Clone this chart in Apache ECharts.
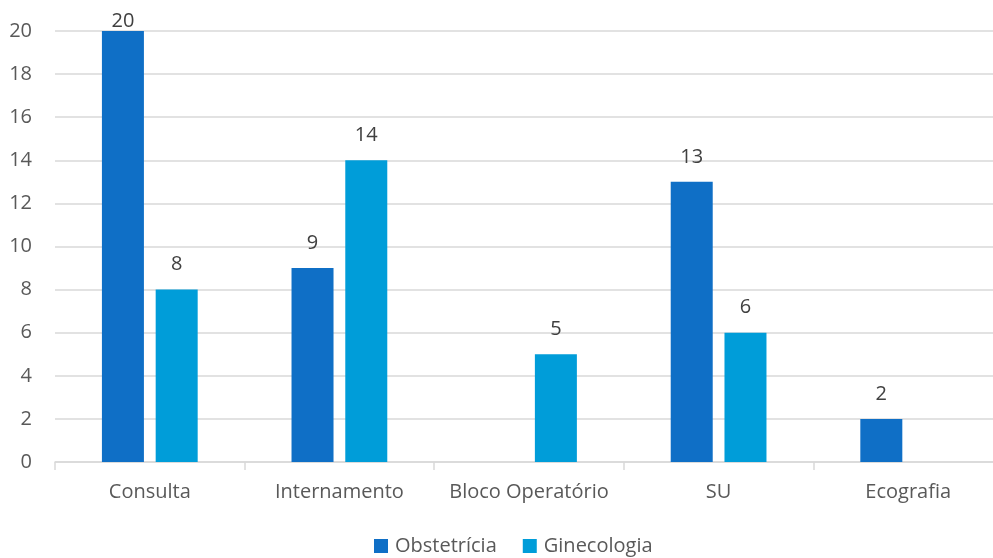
<!DOCTYPE html>
<html>
<head>
<meta charset="utf-8">
<script src="https://cdn.jsdelivr.net/npm/echarts@6/dist/echarts.min.js"></script>
<style>
  html, body { margin: 0; padding: 0; background: #fff; overflow: hidden; }
  #wrap { width: 993px; height: 558px; overflow: hidden; }
  /* the plot runs a little past the right edge of the view */
  #chart { width: 1003px; height: 558px; }
</style>
</head>
<body>
<div id="wrap"><div id="chart"></div></div>
<script>
const categories = ['Consulta', 'Internamento', 'Bloco Operatório', 'SU', 'Ecografia'];
const obstetricia = [20, 9, null, 13, 2];
const ginecologia = [8, 14, 5, 6, null];
const yTicks = { min: 0, max: 20, interval: 2 };

const FONT = '"Open Sans", "Noto Sans", sans-serif';

const chart = echarts.init(document.getElementById('chart'), null, { renderer: 'canvas' });

const labelStyle = {
  show: true,
  position: 'top',
  distance: 15,
  color: '#404040',
  fontSize: 20,
  fontFamily: FONT
};

// labels of bars reaching the axis max sit tight against the bar so they stay in view
function withLabels(values) {
  return values.map(v => (v === yTicks.max ? { value: v, label: { distance: 0 } } : v));
}

chart.setOption({
  animation: false,
  backgroundColor: '#ffffff',
  grid: { left: 55, top: 31, right: 0, bottom: 96, containLabel: false },
  legend: {
    bottom: -3,
    left: 369,
    itemWidth: 14,
    itemHeight: 14,
    itemGap: 26,
    icon: 'rect',
    textStyle: { color: '#595959', fontSize: 20, fontFamily: FONT, padding: [0, 0, 0, 2] },
    data: ['Obstetrícia', 'Ginecologia']
  },
  xAxis: {
    type: 'category',
    data: categories,
    axisLine: { show: true, lineStyle: { color: '#d9d9d9', width: 1.5 } },
    axisTick: { show: true, length: 8, lineStyle: { color: '#d9d9d9', width: 1.5 } },
    axisLabel: { interval: 0, color: '#595959', fontSize: 20, fontFamily: FONT, margin: 20 }
  },
  yAxis: {
    type: 'value',
    min: yTicks.min,
    max: yTicks.max,
    interval: yTicks.interval,
    axisLine: { show: false },
    axisTick: { show: false },
    splitLine: { lineStyle: { color: '#d9d9d9', width: 1.5 } },
    axisLabel: { color: '#595959', fontSize: 20, fontFamily: FONT, margin: 23 }
  },
  series: [
    {
      name: 'Obstetrícia',
      type: 'bar',
      data: withLabels(obstetricia),
      barWidth: 42,
      barGap: '28%',
      itemStyle: { color: '#0F6FC6' },
      label: labelStyle
    },
    {
      name: 'Ginecologia',
      type: 'bar',
      data: withLabels(ginecologia),
      barWidth: 42,
      barGap: '28%',
      itemStyle: { color: '#009DD9' },
      label: labelStyle
    }
  ]
});
</script>
</body>
</html>
